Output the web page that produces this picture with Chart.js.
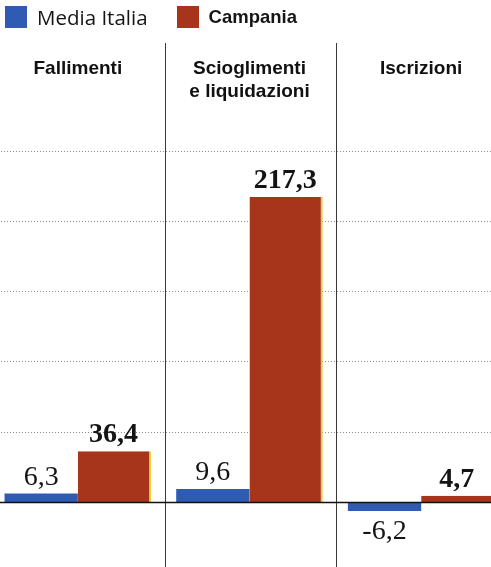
<!DOCTYPE html>
<html>
<head>
<meta charset="utf-8">
<script src="https://cdn.jsdelivr.net/npm/chart.js@4"></script>
<style>
html, body { margin: 0; padding: 0; background: #fff; overflow: hidden; }
.wrap { position: relative; width: 491px; height: 567px; overflow: hidden; }
#myChart { position: absolute; left: -8px; top: 0; }
.legend { position: absolute; left: 5px; top: 3px; display: flex; align-items: center; color: #151515; }
.legend .box { width: 22px; height: 22px; margin-right: 10px; }
.legend .txt { font-size: 20px; line-height: 22px; }
</style>
</head>
<body>
<div class="wrap">
	<canvas id="myChart" width="515" height="567"></canvas>
	<div class="legend"></div>
</div>
<script>
// dati
const categorie = ['Fallimenti', ['Scioglimenti', 'e liquidazioni'], 'Iscrizioni'];
const mediaItalia = [6.3, 9.6, -6.2];
const campania = [36.4, 217.3, 4.7];
const righe = [0, 50, 100, 150, 200, 250];

const blu = '#2f5cb2';
const rosso = '#a6351b';

function fmt(v) {
	return v.toFixed(1).replace('.', ',');
}

// legenda
const serie = [
	{ label: 'Media Italia', color: blu, font: "400 20.5px 'Open Sans'", gap: 29 },
	{ label: 'Campania', color: rosso, font: "700 18.5px 'Liberation Sans'", gap: 0 }
];
const leg = document.querySelector('.legend');
serie.forEach(function (s) {
	leg.insertAdjacentHTML('beforeend',
		`<div class="box" style="background:${s.color}"></div>` +
		`<div class="txt" style="font:${s.font};margin-right:${s.gap}px">${s.label}</div>`);
});

const extra = {
	id: 'extra',
	beforeDatasetsDraw(chart) {
		const { ctx, chartArea, scales } = chart;
		const x = scales.x;
		ctx.save();
		// separatori tra le categorie
		ctx.strokeStyle = '#3a3a3a';
		ctx.lineWidth = 1;
		for (let i = 0; i < categorie.length - 1; i++) {
			const px = Math.round((x.getPixelForValue(i) + x.getPixelForValue(i + 1)) / 2) + 1.5;
			ctx.beginPath();
			ctx.moveTo(px, chartArea.top);
			ctx.lineTo(px, chartArea.bottom);
			ctx.stroke();
		}
		// titoli
		ctx.fillStyle = '#111';
		ctx.font = '700 19px "Liberation Sans"';
		ctx.textAlign = 'center';
		ctx.textBaseline = 'alphabetic';
		categorie.forEach(function (c, i) {
			const lines = Array.isArray(c) ? c : [c];
			lines.forEach(function (l, j) {
				ctx.fillText(l, x.getPixelForValue(i), chartArea.top + 31 + j * 23);
			});
		});
		ctx.restore();
	},
	afterDatasetsDraw(chart) {
		const { ctx, chartArea, scales } = chart;
		const y = scales.y;
		ctx.save();
		// linea dello zero
		const y0 = y.getPixelForValue(0);
		ctx.strokeStyle = '#111';
		ctx.lineWidth = 1.5;
		ctx.beginPath();
		ctx.moveTo(chartArea.left, y0);
		ctx.lineTo(chartArea.right, y0);
		ctx.stroke();
		// etichette dei valori
		ctx.fillStyle = '#141414';
		ctx.textAlign = 'center';
		ctx.textBaseline = 'alphabetic';
		chart.data.datasets.forEach(function (ds, d) {
			ctx.font = (d === 1 ? '700 ' : '400 ') + '28px "Liberation Serif"';
			chart.getDatasetMeta(d).data.forEach(function (bar, i) {
				const v = ds.data[i];
				const cx = bar.x - (d === 1 ? 1 : 0);
				if (v >= 0) ctx.fillText(fmt(v), cx, bar.y - 9);
				else ctx.fillText(fmt(v), cx, bar.y + 28);
			});
		});
		ctx.restore();
	}
};

const ctx = document.getElementById('myChart').getContext('2d');
const myChart = new Chart(ctx, {
	type: 'bar',
	data: {
		labels: categorie,
		datasets: [{
			label: 'Media Italia',
			data: mediaItalia,
			backgroundColor: blu,
			borderWidth: 0
		},
		{
			label: 'Campania',
			data: campania,
			backgroundColor: rosso,
			borderColor: '#e6cf3c',
			borderWidth: { top: 0, left: 0, bottom: 0, right: 2 },
			borderSkipped: false
		}]
	},
	options: {
		responsive: false,
		animation: false,
		layout: { padding: { top: 43, left: 0, right: 0, bottom: 0 } },
		datasets: {
			bar: { categoryPercentage: 0.854, barPercentage: 1 }
		},
		plugins: {
			legend: { display: false },
			tooltip: { enabled: false }
		},
		scales: {
			x: { display: false },
			y: {
				min: -46,
				max: 327,
				afterBuildTicks: function (axis) {
					axis.ticks = righe.map(function (v) { return { value: v }; });
				},
				ticks: { display: false },
				border: { display: false, dash: [1, 2] },
				grid: {
					drawTicks: false,
					color: function (c) { return c.tick && c.tick.value === 0 ? 'rgba(0,0,0,0)' : '#8a8a8a'; },
					lineWidth: 1
				}
			}
		}
	},
	plugins: [extra]
});
</script>
</body>
</html>
